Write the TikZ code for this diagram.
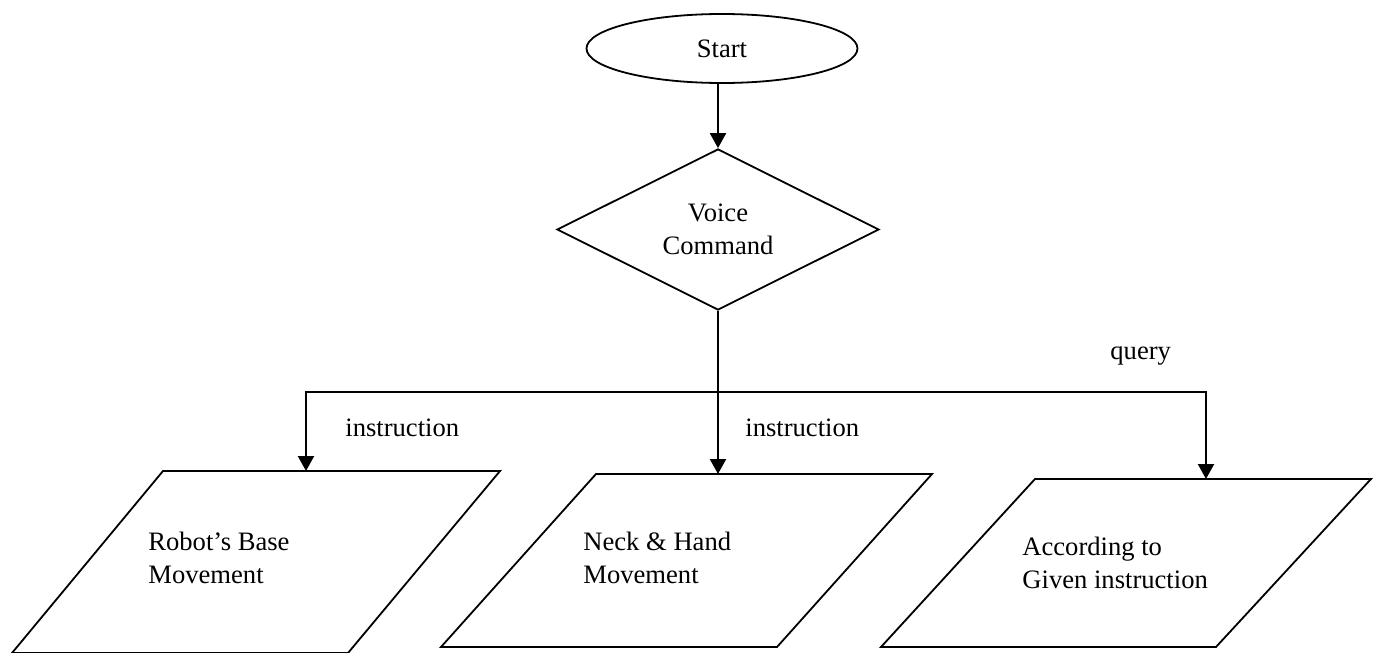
\documentclass[tikz,border=0pt]{standalone}
\usepackage{fontspec}
\setmainfont{Liberation Serif}
\usetikzlibrary{shapes.geometric,arrows.meta}
\begin{document}
\begin{tikzpicture}[x=0.5pt,y=-0.5pt,
  every node/.style={font=\fontsize{13.3}{16.5}\selectfont},
  shapebox/.style={draw,line width=0.9pt,inner sep=0pt},
  para/.style={draw,line width=0.9pt},
  conn/.style={line width=1.1pt},
  arr/.style={conn,-{Triangle[length=7.5pt,width=8pt]}},
  lbl/.style={inner sep=0pt}]
\useasboundingbox (0,0) rectangle (1373,653);
\node[shapebox,ellipse,minimum width=135.5pt,minimum height=34.5pt] (start) at (722,48.5) {Start};
\node[shapebox,diamond,aspect=2,minimum width=161pt,minimum height=80.5pt,align=center] (dia) at (718,229.5) {Voice\\Command};
% parallelograms
\draw[para] (163,471) -- (500,471) -- (348,653) -- (12,653) -- cycle;
\draw[para] (596,474) -- (932,474) -- (777,647) -- (441,647) -- cycle;
\draw[para] (1035,479) -- (1371,479) -- (1216,647) -- (881,647) -- cycle;
\coordinate (p1top) at (306,471);
\coordinate (p2top) at (718,474);
\coordinate (p3top) at (1206,479);
\coordinate (hl) at (0,392);
\node[lbl,align=left,anchor=west] (t1) at (148,558) {Robot’s Base\\Movement};
\node[lbl,align=left,anchor=west] (t2) at (583,558) {Neck \& Hand\\Movement};
\node[lbl,align=left,anchor=west] (t3) at (1022,563) {According to\\Given instruction};
\node[lbl,anchor=base west] (l1) at (345,436) {instruction};
\node[lbl,anchor=base west] (l2) at (745,436) {instruction};
\node[lbl,anchor=base west] (l3) at (1110,359) {query};
% connectors
\draw[arr] (start.south -| dia.north) -- (dia.north);
\coordinate (jn) at (dia.south |- hl);
\draw[arr] (dia.south) -- (p2top);
\draw[arr] (jn) -| (p1top);
\draw[arr] (jn) -| (p3top);
\end{tikzpicture}
\end{document}
